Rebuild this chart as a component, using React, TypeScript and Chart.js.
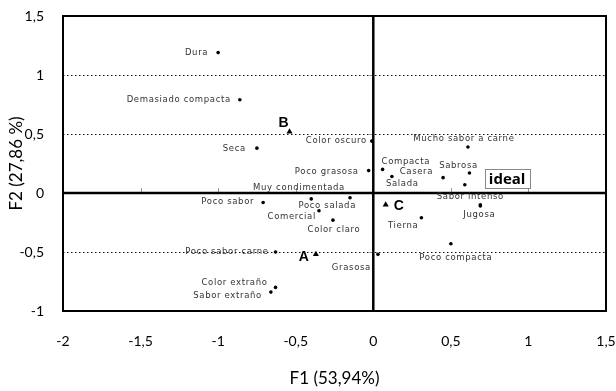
import { useEffect, useRef } from "react";
import { Chart, registerables } from "chart.js";

Chart.register(...registerables);

// Sensory attributes projected on the first two factors
const attributeNames = [
  "Dura",
  "Demasiado compacta",
  "Seca",
  "Color oscuro",
  "Poco grasosa",
  "Muy condimentada",
  "Poco sabor",
  "Poco salada",
  "Comercial",
  "Color claro",
  "Poco sabor carne",
  "Grasosa",
  "Color extraño",
  "Sabor extraño",
  "Mucho sabor a carne",
  "Compacta",
  "Casera",
  "Salada",
  "Sabrosa",
  "ideal",
  "Sabor intenso",
  "Jugosa",
  "Tierna",
  "Poco compacta",
];
const attributeX = [
  -1.0, -0.86, -0.75, -0.01, -0.03, -0.15, -0.71, -0.4, -0.35, -0.26, -0.63, 0.03, -0.63, -0.66,
  0.61, 0.06, 0.45, 0.12, 0.62, 0.59, 0.69, 0.69, 0.31, 0.5,
];
const attributeY = [
  1.19, 0.79, 0.38, 0.44, 0.19, -0.04, -0.08, -0.05, -0.15, -0.23, -0.5, -0.52, -0.8, -0.84,
  0.39, 0.2, 0.13, 0.14, 0.17, 0.07, -0.1, -0.11, -0.21, -0.43,
];

// Products
const productNames = ["A", "B", "C"];
const productX = [-0.37, -0.54, 0.08];
const productY = [-0.52, 0.52, -0.1];

const xTicks = [-2, -1.5, -1, -0.5, 0, 0.5, 1, 1.5];
const yTicks = [-1, -0.5, 0, 0.5, 1, 1.5];
const xTitle = "F1 (53,94%)";
const yTitle = "F2 (27,86 %)";

// Label placement: text alignment and pixel offset from the marker
type Place = [CanvasTextAlign, number, number];
const labelPlacement: Record<string, Place> = {
  "Dura": ["right", -10, 0],
  "Demasiado compacta": ["right", -9, 0],
  "Seca": ["right", -11, 1],
  "Color oscuro": ["right", -5, 0],
  "Poco grasosa": ["right", -10, 1],
  "Muy condimentada": ["center", -51, -10],
  "Poco sabor": ["right", -9, -1],
  "Poco salada": ["center", 16, 7],
  "Comercial": ["right", -3, 6],
  "Color claro": ["center", 1, 10],
  "Poco sabor carne": ["right", -7, 0],
  "Grasosa": ["right", -7, 13],
  "Color extraño": ["right", -8, -5],
  "Sabor extraño": ["right", -9, 4],
  "Mucho sabor a carne": ["center", -4, -8],
  "Compacta": ["left", -1, -8],
  "Casera": ["right", -10, -6],
  "Salada": ["left", -6, 7],
  "Sabrosa": ["center", -11, -7],
  "ideal": ["left", 24, -6],
  "Sabor intenso": ["center", -10, -8],
  "Jugosa": ["center", -1, 9],
  "Tierna": ["right", -3, 8],
  "Poco compacta": ["center", 5, 14],
  "A": ["right", -7, 3],
  "B": ["center", -6, -8],
  "C": ["left", 8, 1],
};

const fmt = (v: number) => String(v).replace(".", ",");

const framePlugin = {
  id: "frame",
  beforeDatasetsDraw(chart: Chart) {
    const { ctx, chartArea, scales } = chart;
    const { left, right, top, bottom } = chartArea;
    const xs = scales.x;
    const ys = scales.y;
    const x0 = xs.getPixelForValue(0);
    const y0 = ys.getPixelForValue(0);
    ctx.save();

    // dotted reference lines
    ctx.strokeStyle = "#111";
    ctx.lineWidth = 1;
    ctx.setLineDash([1.5, 2.5]);
    for (const v of yTicks) {
      if (v === 0 || v === yTicks[0] || v === yTicks[yTicks.length - 1]) continue;
      const py = Math.round(ys.getPixelForValue(v)) + 0.5;
      ctx.beginPath();
      ctx.moveTo(left, py);
      ctx.lineTo(right, py);
      ctx.stroke();
    }
    ctx.setLineDash([]);

    // small marks along the zero axes
    ctx.strokeStyle = "#999";
    ctx.lineWidth = 1;
    for (const v of xTicks) {
      if (v === 0 || v === xTicks[0] || v === xTicks[xTicks.length - 1]) continue;
      const px = Math.round(xs.getPixelForValue(v)) + 0.5;
      ctx.beginPath();
      ctx.moveTo(px, y0);
      ctx.lineTo(px, y0 - 5);
      ctx.stroke();
    }
    for (const v of yTicks) {
      if (v === 0 || v === yTicks[0] || v === yTicks[yTicks.length - 1]) continue;
      const py = Math.round(ys.getPixelForValue(v)) + 0.5;
      ctx.beginPath();
      ctx.moveTo(x0, py);
      ctx.lineTo(x0 - 5, py);
      ctx.stroke();
    }

    // zero axes
    ctx.strokeStyle = "#000";
    ctx.lineWidth = 2.5;
    ctx.beginPath();
    ctx.moveTo(x0, top);
    ctx.lineTo(x0, bottom);
    ctx.moveTo(left, y0);
    ctx.lineTo(right, y0);
    ctx.stroke();

    // plot frame
    ctx.lineWidth = 2;
    ctx.strokeRect(left, top, right - left, bottom - top);
    ctx.restore();
  },
};

const labelPlugin = {
  id: "pointLabels",
  afterDatasetsDraw(chart: Chart) {
    const { ctx } = chart;
    const groups: string[][] = [attributeNames, productNames];
    ctx.save();
    groups.forEach((names, di) => {
      const meta = chart.getDatasetMeta(di);
      meta.data.forEach((el: any, i: number) => {
        const name = names[i];
        const [align, dx, dy] = labelPlacement[name] || ["left", 6, 0];
        const tx = el.x + dx;
        const ty = el.y + dy;
        ctx.textAlign = align;
        ctx.textBaseline = "middle";
        if (name === "ideal") {
          ctx.font = "bold 15px 'Open Sans'";
          (ctx as any).letterSpacing = "0px";
          const w = ctx.measureText(name).width;
          ctx.fillStyle = "#fff";
          ctx.fillRect(tx - 4, ty - 10, w + 8, 20);
          ctx.strokeStyle = "#888";
          ctx.lineWidth = 1;
          ctx.strokeRect(Math.round(tx - 4) + 0.5, Math.round(ty - 10) + 0.5, Math.round(w + 8), 19);
          ctx.fillStyle = "#000";
          ctx.fillText(name, tx, ty + 1);
        } else if (di === 1) {
          ctx.font = "bold 14px 'Liberation Sans'";
          (ctx as any).letterSpacing = "0px";
          ctx.fillStyle = "#000";
          ctx.fillText(name, tx, ty);
        } else {
          ctx.font = "8.5px 'DejaVu Sans'";
          (ctx as any).letterSpacing = "0.65px";
          ctx.fillStyle = "#333";
          ctx.fillText(name, tx, ty);
        }
      });
    });
    ctx.restore();
  },
};

export default function App() {
  const canvasRef = useRef<HTMLCanvasElement | null>(null);

  useEffect(() => {
    const canvas = canvasRef.current;
    if (!canvas) return;
    const tickFont = { family: "Lato", size: 14 };
    const titleFont = { family: "Lato", size: 17 };
    const chart = new Chart(canvas, {
      type: "scatter",
      data: {
        datasets: [
          {
            data: attributeX.map((x, i) => ({ x, y: attributeY[i] })),
            pointStyle: "circle",
            pointRadius: 1.8,
            backgroundColor: "#000",
            borderWidth: 0,
          },
          {
            data: productX.map((x, i) => ({ x, y: productY[i] })),
            pointStyle: "triangle",
            pointRadius: 3.5,
            backgroundColor: "#000",
            borderWidth: 0,
          },
        ],
      },
      options: {
        animation: false,
        responsive: false,
        devicePixelRatio: 1,
        layout: { padding: { left: 0, right: 10, top: 16, bottom: 0 } },
        plugins: { legend: { display: false }, tooltip: { enabled: false } },
        scales: {
          x: {
            type: "linear",
            min: xTicks[0],
            max: xTicks[xTicks.length - 1],
            grid: { display: false },
            border: { display: false },
            afterBuildTicks: (s: any) => {
              s.ticks = xTicks.map((value) => ({ value }));
            },
            afterFit: (s: any) => {
              s.height = 80;
              s.paddingLeft = 0;
              s.paddingRight = 0;
            },
            ticks: {
              callback: (v: any) => fmt(Number(v)),
              font: tickFont,
              color: "#000",
              padding: 14,
              maxRotation: 0,
            },
            title: {
              display: true,
              text: xTitle,
              font: titleFont,
              color: "#000",
              padding: { top: 0, bottom: 2 },
            },
          },
          y: {
            type: "linear",
            min: yTicks[0],
            max: yTicks[yTicks.length - 1],
            grid: { display: false },
            border: { display: false },
            afterBuildTicks: (s: any) => {
              s.ticks = yTicks.map((value) => ({ value }));
            },
            afterFit: (s: any) => {
              s.width = 63;
              s.paddingTop = 0;
              s.paddingBottom = 0;
            },
            ticks: {
              callback: (v: any) => fmt(Number(v)),
              font: tickFont,
              color: "#000",
              padding: 11,
            },
            title: {
              display: true,
              text: yTitle,
              font: titleFont,
              color: "#000",
              padding: { top: 6, bottom: 0 },
            },
          },
        },
      },
      plugins: [framePlugin, labelPlugin],
    });
    return () => chart.destroy();
  }, []);

  return (
    <div style={{ position: "absolute", left: 0, top: 0, width: 616, height: 391, background: "#fff" }}>
      <canvas ref={canvasRef} width={616} height={391} style={{ display: "block" }} />
    </div>
  );
}
